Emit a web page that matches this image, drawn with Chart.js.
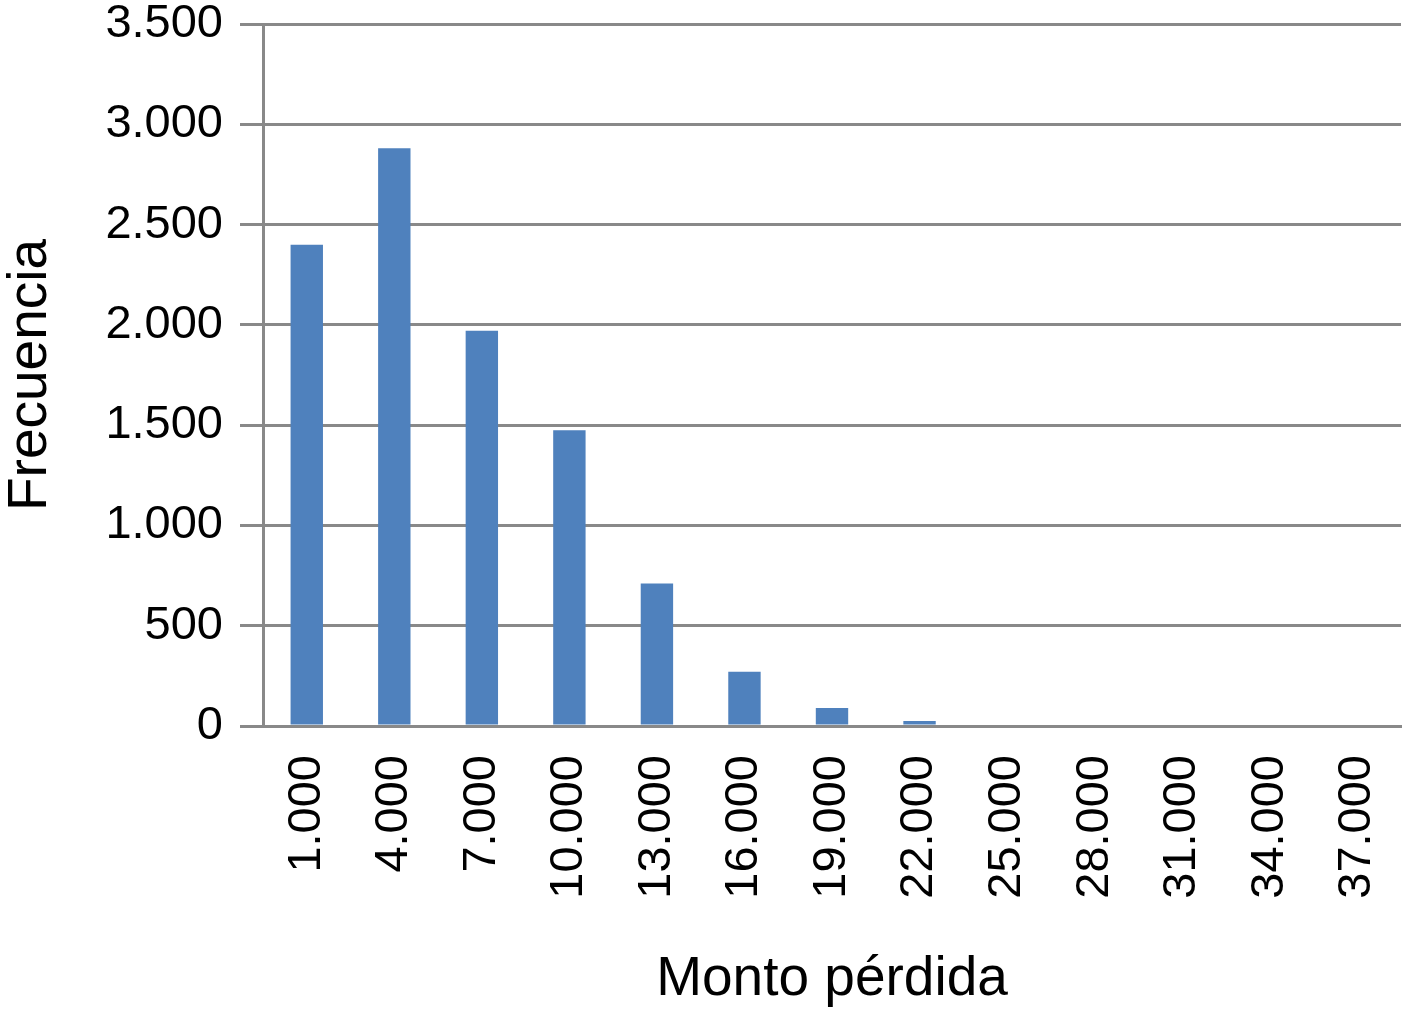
<!DOCTYPE html>
<html>
<head>
<meta charset="utf-8">
<script src="https://cdn.jsdelivr.net/npm/chart.js@4"></script>
<style>
html,body{margin:0;padding:0;background:#fff;}
#wrap{width:1403px;height:1026px;position:relative;}
</style>
</head>
<body>
<div id="wrap"><canvas id="c" width="1403" height="1026"></canvas></div>
<script>
const categories = ["1.000","4.000","7.000","10.000","13.000","16.000","19.000","22.000","25.000","28.000","31.000","34.000","37.000"];
const frecuencia = [2400, 2880, 1970, 1475, 710, 270, 90, 25, 0, 0, 0, 0, 0];
const yTicks = [0, 500, 1000, 1500, 2000, 2500, 3000, 3500];
const xTitle = "Monto pérdida";
const yTitle = "Frecuencia";

function fmt(v){ return String(v).replace(/\B(?=(\d{3})+(?!\d))/g, "."); }

const FONT = "'Liberation Sans', Arial, Helvetica, sans-serif";
const GRID = "#898989";

new Chart(document.getElementById('c'), {
  type: 'bar',
  data: {
    labels: categories,
    datasets: [{
      data: frecuencia,
      backgroundColor: '#4f81bd',
      borderWidth: 0,
      categoryPercentage: 1,
      barPercentage: 0.37
    }]
  },
  options: {
    responsive: false,
    animation: false,
    events: [],
    layout: { padding: { top: 24, right: 2, bottom: 0, left: 0 } },
    plugins: { legend: { display: false }, tooltip: { enabled: false } },
    scales: {
      x: {
        grid: { display: false, drawTicks: false },
        border: { display: true, color: GRID, width: 3 },
        ticks: {
          color: '#000',
          font: { family: FONT, size: 47, lineHeight: 0.2 },
          minRotation: 90, maxRotation: 90,
          padding: 29,
          autoSkip: false
        },
        title: {
          display: true, text: xTitle, color: '#000',
          font: { family: FONT, size: 55, lineHeight: 1.2 },
          padding: { top: 0, bottom: 13 }
        },
        afterFit: (s) => { s.height = 300; }
      },
      y: {
        min: 0, max: 3500,
        afterBuildTicks: (s) => { s.ticks = yTicks.map(v => ({ value: v })); },
        grid: { color: GRID, lineWidth: 3, tickLength: 23, drawTicks: true },
        border: { display: true, color: GRID, width: 3 },
        ticks: {
          color: '#000',
          font: { family: FONT, size: 47, lineHeight: 0.1 },
          padding: 17,
          callback: (v) => fmt(v)
        },
        title: {
          display: true, text: yTitle, color: '#000',
          font: { family: FONT, size: 55, lineHeight: 1 },
          padding: { top: 3, bottom: 0 }
        },
        afterFit: (s) => { s.width = 263; }
      }
    }
  }
});
</script>
</body>
</html>
